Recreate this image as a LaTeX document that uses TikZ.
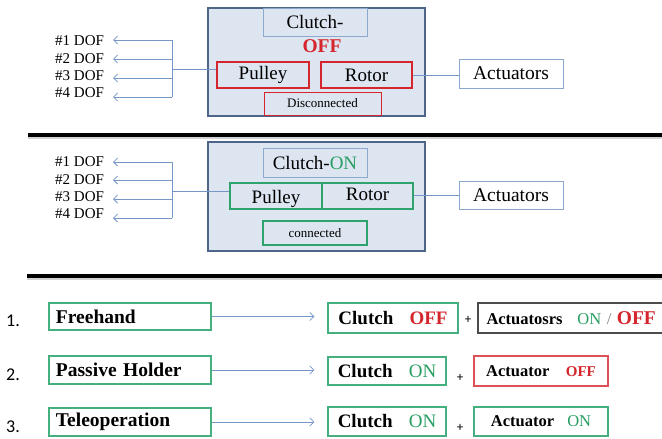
\documentclass[tikz,border=0pt]{standalone}
\usepackage{fontspec}
\setmainfont{Liberation Serif}
\newfontfamily\tnr{Liberation Serif}
\newfontfamily\numfont{Carlito}
\usetikzlibrary{arrows.meta}
\definecolor{offred}{RGB}{212,38,44}
\definecolor{ongreen}{RGB}{40,158,98}
\definecolor{onbox}{RGB}{46,163,110}
\definecolor{modegreen}{RGB}{70,175,128}
\definecolor{panelfill}{RGB}{221,229,241}
\definecolor{panelline}{RGB}{76,101,136}
\definecolor{tagline}{RGB}{140,168,204}
\definecolor{linkblue}{RGB}{118,150,200}
\tikzset{
  every node/.style={font=\tnr},
  panel/.style={draw=panelline,fill=panelfill,line width=1.8pt,minimum width=217pt,inner sep=0pt},
  tag/.style={draw=tagline,fill=panelfill,line width=0.8pt,minimum width=104pt,inner sep=0pt,font=\tnr\fontsize{19}{21}\selectfont},
  redblk/.style={draw=offred,line width=2pt,minimum height=26pt,inner sep=0pt,font=\tnr\fontsize{19}{21}\selectfont},
  grnblk/.style={draw=onbox,line width=2pt,minimum height=26pt,inner sep=0pt,font=\tnr\fontsize{19}{21}\selectfont},
  actblk/.style={draw=tagline,fill=white,line width=0.8pt,minimum width=104pt,inner sep=0pt,font=\tnr\fontsize{19.5}{21}\selectfont},
  doflbl/.style={anchor=west,inner sep=0pt,font=\tnr\fontsize{15}{17}\selectfont},
  link/.style={draw=linkblue,line width=0.8pt},
  arr/.style={link,-{Straight Barb[length=4pt,width=8pt]}},
  sepline/.style={line width=3.2pt},
  modeblk/.style={draw=modegreen,line width=1.2pt,minimum height=28pt,text width=148pt,align=left,inner xsep=7pt,inner ysep=0pt,font=\tnr\fontsize{19.5}{21}\selectfont\bfseries},
  stateblk/.style={line width=1.2pt,minimum height=29pt,inner sep=0pt,font=\tnr\fontsize{19}{21}\selectfont},
  numlbl/.style={anchor=west,inner sep=0pt,font=\numfont\fontsize{18}{20}\selectfont},
  pluslbl/.style={inner sep=0pt,font=\numfont\fontsize{13}{15}\selectfont}
}

\begin{document}
\begin{tikzpicture}[x=1pt,y=-1pt]
  \clip (0,0) rectangle (662,439);
  \fill[white] (0,0) rectangle (662,439);

  % clutch released
  \node[panel,minimum height=108pt] (body1) at (316.5,62) {};
  \node[tag,minimum height=28pt] (tag1) at (315,22) {Clutch-};
  \node[font=\tnr\fontsize{19.5}{21}\selectfont\bfseries,text=offred,inner sep=0pt] (off1) at (322,46) {OFF};
  \node[redblk,minimum width=92pt] (pul1) at (263,75) {Pulley};
  \node[redblk,minimum width=91pt] (rot1) at (366.5,75) {Rotor};
  \node[draw=offred,fill=panelfill,line width=0.8pt,minimum width=117pt,minimum height=23pt,inner sep=0pt,font=\tnr\fontsize{13}{15}\selectfont] (gap1) at (322.5,103.5) {Disconnected};
  \node[actblk,minimum height=29pt] (act1) at (511,73.5) {Actuators};
  \draw[link] (rot1.east) -- (rot1.east -| act1.west);

  \coordinate (hub1) at (172,69);
  \draw[link] (pul1.west |- hub1) -- (hub1);
  \draw[link] (172,40) -- (172,97);
  \foreach \i/\ty/\ly in {1/40/41,2/59/59,3/78/76,4/97/93}{
    \node[doflbl] (dof1-\i) at (55,\ly) {\#\i\ DOF};
    \coordinate (tip1-\i) at (113,\ty);
    \draw[arr] (hub1 |- tip1-\i) -- (tip1-\i);
  }

  \draw[sepline,gray!35] (28,137.5) -- (662,137.5);
  \draw[sepline] (28,135) -- (662,135);

  % clutch engaged
  \node[panel,minimum height=109pt] (body2) at (316.5,196.5) {};
  \node[tag,minimum height=29pt] (tag2) at (315,162.5) {Clutch-\textcolor{ongreen}{ON}};
  \node[grnblk,minimum width=92pt] (pul2) at (276,196) {\smash{\raisebox{-7pt}{Pulley}}};
  \node[grnblk,minimum width=91pt] (rot2) at (367.5,196) {\smash{\raisebox{-4pt}{Rotor}}};
  \node[draw=onbox,line width=2pt,minimum width=104pt,minimum height=24pt,inner sep=0pt,font=\tnr\fontsize{13}{15}\selectfont] (gap2) at (315,233) {connected};
  \node[actblk,minimum height=28pt] (act2) at (511,195) {Actuators};
  \draw[link] (rot2.east |- act2) -- (act2.west);

  \coordinate (hub2) at (172,191);
  \draw[link] (pul2.west |- hub2) -- (hub2);
  \draw[link] (172,162) -- (172,218);
  \foreach \i/\ty/\ly in {1/162/162,2/180/180,3/199/197,4/218/214}{
    \node[doflbl] (dof2-\i) at (55,\ly) {\#\i\ DOF};
    \coordinate (tip2-\i) at (113,\ty);
    \draw[arr] (hub2 |- tip2-\i) -- (tip2-\i);
  }

  \draw[sepline,gray!35] (27,278.5) -- (662,278.5);
  \draw[sepline] (27,276) -- (662,276);

  % operating modes
  \node[numlbl] (n1) at (6,321) {1.};
  \node[numlbl] (n2) at (6,375) {2.};
  \node[numlbl] (n3) at (6,427) {3.};

  \node[modeblk,minimum height=27pt] (free) at (130,316.5) {Freehand};
  \node[modeblk] (pass) at (130,370) {Passive Holder};
  \node[modeblk] (tele) at (130,422) {Teleoperation};

  \node[stateblk,draw=modegreen,minimum width=130pt,minimum height=30pt] (clu1) at (393,318)
    {\textbf{Clutch}\hspace{0.85em}\textcolor{offred}{\textbf{OFF}}};
  \node[stateblk,draw=modegreen,minimum width=118pt,minimum height=28pt] (clu2) at (387,371)
    {\textbf{Clutch}\hspace{0.85em}\textcolor{ongreen}{ON}};
  \node[stateblk,draw=modegreen,minimum width=118pt] (clu3) at (387,421.5)
    {\textbf{Clutch}\hspace{0.85em}\textcolor{ongreen}{ON}};

  \draw[arr,shorten >=13pt] (free.east) -- (free.east -| clu1.west);
  \draw[arr,shorten >=13pt] (pass.east) -- (pass.east -| clu2.west);
  \draw[arr,shorten >=13pt] (tele.east) -- (tele.east -| clu3.west);

  \node[pluslbl] (p1) at (468,320) {+};
  \node[pluslbl] (p2) at (460,378) {+};
  \node[pluslbl] (p3) at (460,428) {+};

  \node[stateblk,draw=black!70,minimum width=187pt,minimum height=30pt,text width=170pt,align=left,inner xsep=8.5pt,font=\tnr\fontsize{16.5}{19}\selectfont] (mot1) at (571.5,318)
    {\textbf{Actuatosrs}\hspace{0.9em}\textcolor{ongreen}{ON} \textcolor{gray}{/} {\fontsize{19.5}{21}\selectfont\textbf{\textcolor{offred}{OFF}}}};
  \node[stateblk,draw=offred!80,minimum width=134pt,minimum height=30pt,font=\tnr\fontsize{16.5}{19}\selectfont] (mot2) at (541,371)
    {\textbf{Actuator}\hspace{1em}{\fontsize{15}{17}\selectfont\textbf{\textcolor{offred}{OFF}}}};
  \node[stateblk,draw=modegreen,minimum width=134pt,font=\tnr\fontsize{16.5}{19}\selectfont] (mot3) at (541,421.5)
    {\textbf{Actuator}\hspace{0.8em}\textcolor{ongreen}{ON}};
\end{tikzpicture}
\end{document}
